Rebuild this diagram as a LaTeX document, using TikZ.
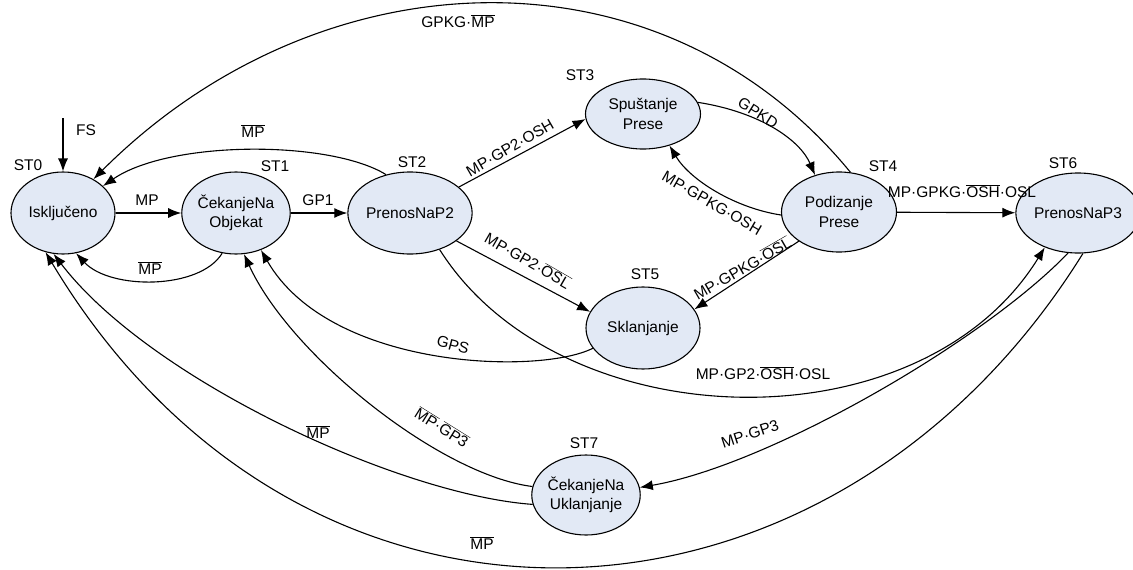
\documentclass[tikz,border=0pt]{standalone}
\usepackage{fontspec}
\setmainfont{Liberation Sans}
\usetikzlibrary{arrows.meta,shapes.geometric}
\definecolor{stfill}{RGB}{226,233,245}
\newcommand{\inv}[1]{$\overline{\mbox{#1}}$}
\tikzset{state/.style={ellipse,draw,line width=1.1pt,fill=stfill,inner sep=0pt,align=center,font=\fontsize{15.5}{19.5}\selectfont},trans/.style={line width=1.1pt,-{Latex[length=13pt,width=10pt]}},lbl/.style={anchor=center,inner sep=1pt,font=\fontsize{15.5}{18}\selectfont}}
\begin{document}
\begin{tikzpicture}[x=1pt,y=-1pt]
\path[use as bounding box] (0,0) rectangle (1133,570);
\node[state,minimum width=104pt,minimum height=82pt] (st0) at (63,213) {Isključeno};
\node[state,minimum width=104pt,minimum height=82pt] (st1) at (236,213) {ČekanjeNa\\Objekat};
\node[state,minimum width=106pt,minimum height=82pt] (st2) at (410,213) {PrenosNaP2};
\node[state,minimum width=115pt,minimum height=70pt] (st3) at (643,114) {Spuštanje\\Prese};
\node[state,minimum width=115pt,minimum height=80pt] (st4) at (839,212) {Podizanje\\Prese};
\node[state,minimum width=114pt,minimum height=82pt] (st5) at (643,328) {Sklanjanje};
\node[state,minimum width=110pt,minimum height=80pt] (st6) at (1078,213) {PrenosNaP3};
\node[state,minimum width=102pt,minimum height=80pt] (st7) at (586,495) {ČekanjeNa\\Uklanjanje};
\node[lbl] (n0) at (28,165) {ST0};
\node[lbl] (n1) at (275,166) {ST1};
\node[lbl] (n2) at (412,162) {ST2};
\node[lbl] (n3) at (580,75) {ST3};
\node[lbl] (n4) at (883,166) {ST4};
\node[lbl] (n5) at (645,274) {ST5};
\node[lbl] (n6) at (1063,163) {ST6};
\node[lbl] (n7) at (584,443) {ST7};
\coordinate (fs) at (63,118);
\draw[trans] (fs) -- (st0);
\node[lbl] (e0) at (86,130) {FS};
\draw[trans] (st0) -- (st1);
\node[lbl] (e1) at (147,200) {MP};
\draw[trans] (st1.-109) .. controls (200,290) and (110,290) .. (st0.-72);
\node[lbl] (e2) at (150,268) {\inv{MP}};
\draw[trans] (st1) -- (st2);
\node[lbl] (e3) at (318,200) {GP1};
\draw[trans] (st2.122) .. controls (330,140) and (170,140) .. (st0.34);
\node[lbl] (e4) at (253,131) {\inv{MP}};
\draw[trans] (st4.74) .. controls (660,-60) and (320,-47) .. (st0.48);
\node[lbl] (e5) at (458,21) {GPKG·\inv{MP}};
\draw[trans] (st2.28) -- (st3.185);
\node[lbl,rotate=30] (e6) at (510,148) {MP·GP2·OSH};
\draw[trans] (st3.12) .. controls (760,112) and (800,140) .. (st4.123);
\node[lbl,rotate=-32] (e7) at (758,113) {GPKD};
\draw[trans] (st4.183) .. controls (735,208) and (690,180) .. (st3.-50);
\node[lbl,rotate=-30] (e8) at (712,203) {MP·GPKG·OSH};
\draw[trans] (st2.-31) -- (st5.163);
\node[lbl,rotate=-30] (e9) at (528,260) {MP·GP2·\inv{OSL}};
\draw[trans] (st4.-144) -- (st5.20);
\node[lbl,rotate=30] (e10) at (742,268) {MP·GPKG·\inv{OSL}};
\draw[trans] (st4) -- (st6);
\node[lbl] (e11) at (962,191) {MP·GPKG·\inv{OSH}·OSL};
\draw[trans] (st5.-158) .. controls (540,375) and (330,370) .. (st1.-56);
\node[lbl,rotate=-15] (e12) at (453,345) {GPS};
\draw[trans] (st2.-51) .. controls (560,440) and (920,450) .. (st6.-134);
\node[lbl] (e13) at (763,373) {MP·GP2·\inv{OSH}·OSL};
\draw[trans] (st6.-104) .. controls (985,340) and (770,465) .. (st7.8);
\node[lbl,rotate=18] (e14) at (750,434) {MP·GP3};
\draw[trans] (st7.171) .. controls (440,475) and (290,355) .. (st1.-79);
\node[lbl,rotate=-32] (e15) at (442,427) {\inv{MP}·\inv{GP3}};
\draw[trans] (st7.-170) .. controls (400,495) and (150,380) .. (st0.-103);
\node[lbl] (e16) at (318,432) {\inv{MP}};
\draw[trans] (st6.-83) .. controls (830,660) and (303,682) .. (st0.-114);
\node[lbl] (e17) at (482,543) {\inv{MP}};
\end{tikzpicture}
\end{document}
